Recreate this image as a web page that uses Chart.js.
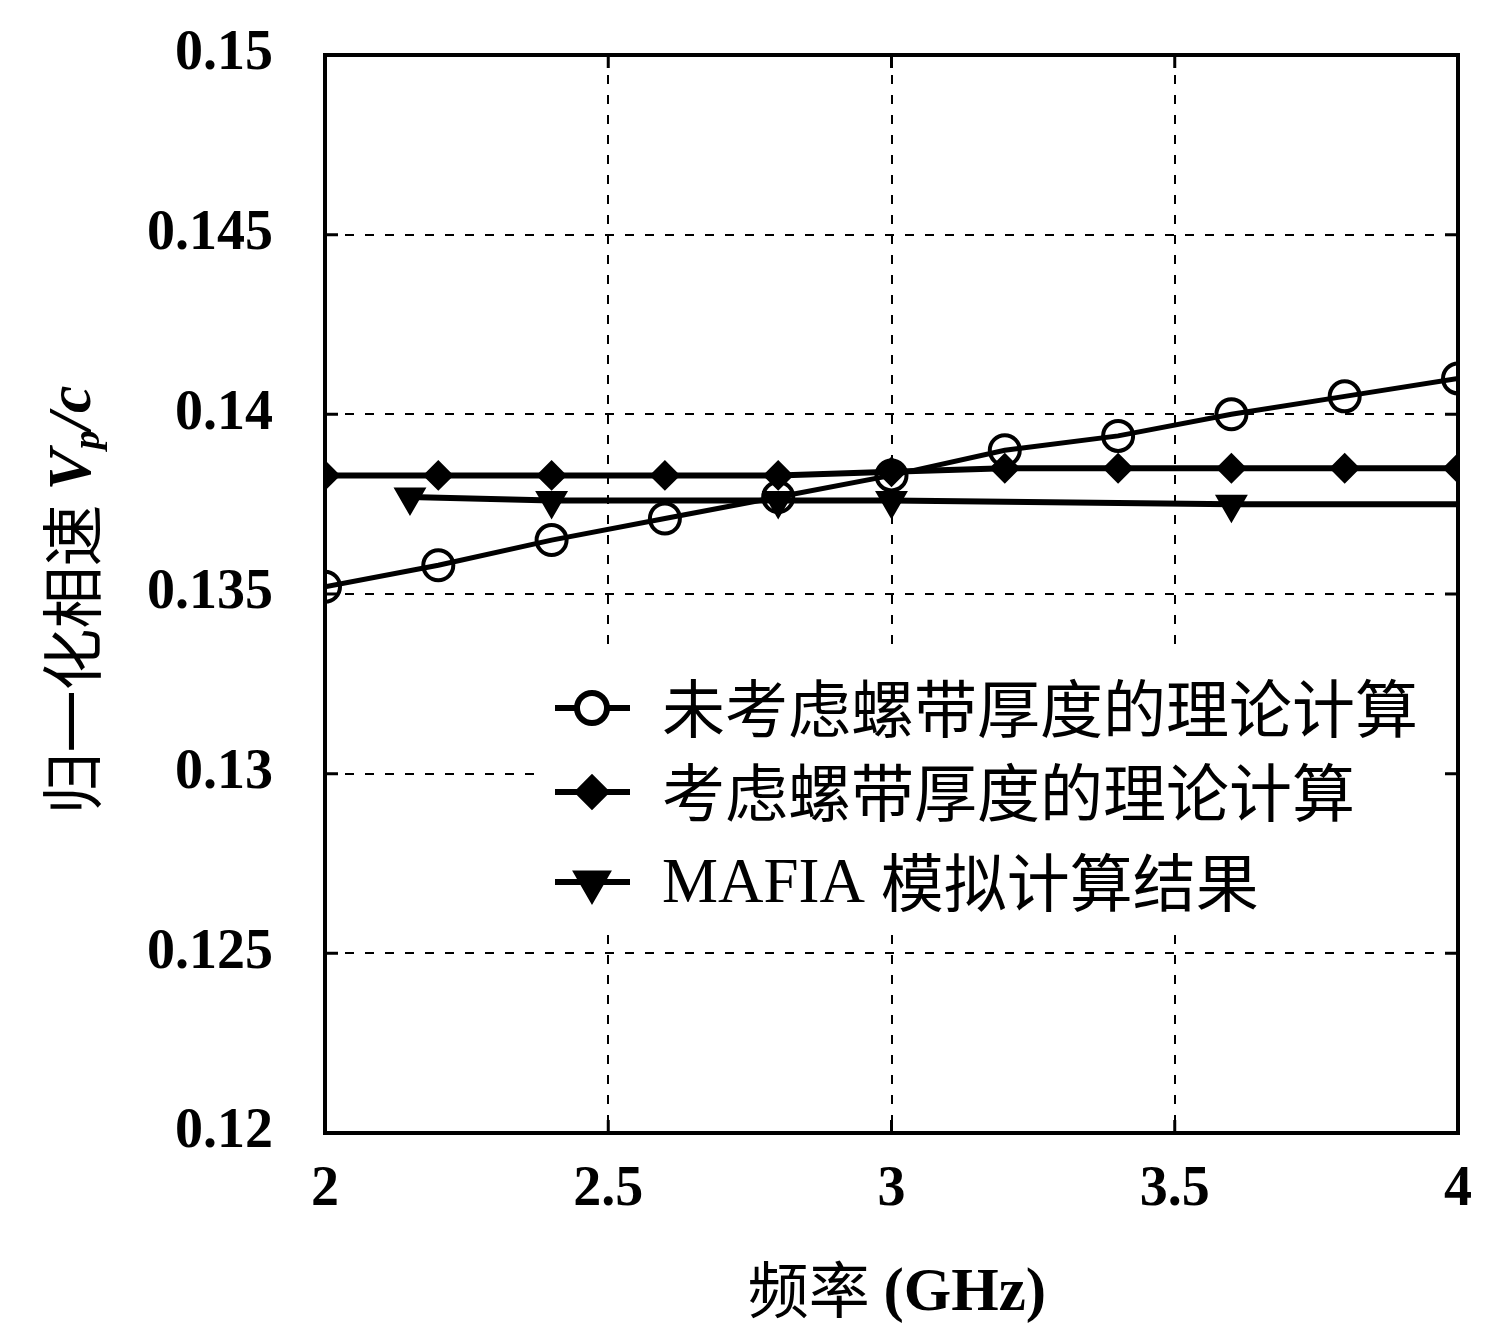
<!DOCTYPE html>
<html>
<head>
<meta charset="utf-8">
<script src="https://cdn.jsdelivr.net/npm/chart.js@4.4.1/dist/chart.umd.min.js"></script>
<style>
  html, body { margin: 0; padding: 0; background: #fff; }
  #wrap { width: 1485px; height: 1325px; }
</style>
</head>
<body>
<div id="wrap"><canvas id="c" width="1485" height="1325"></canvas></div>
<script>
// ---- data ----
const freqs = [2.0, 2.2, 2.4, 2.6, 2.8, 3.0, 3.2, 3.4, 3.6, 3.8, 4.0];
const noThickness = [0.1352, 0.1358, 0.1365, 0.1371, 0.1377, 0.1383, 0.1390, 0.1394, 0.1400, 0.1405, 0.1410];
const withThickness = [0.1383, 0.1383, 0.1383, 0.1383, 0.1383, 0.1384, 0.1385, 0.1385, 0.1385, 0.1385, 0.1385];
const mafiaFreqs = [2.15, 2.4, 2.8, 3.0, 3.6, 4.0];
const mafiaValues = [0.1377, 0.1376, 0.1376, 0.1376, 0.1375, 0.1375];
const mafiaMarker = [true, true, true, true, true, false];

const seriesLabels = ['未考虑螺带厚度的理论计算', '考虑螺带厚度的理论计算', 'MAFIA 模拟计算结果'];
const xTicks = [2, 2.5, 3, 3.5, 4];
const yTicks = [0.12, 0.125, 0.13, 0.135, 0.14, 0.145, 0.15];

const SERIF = "'Liberation Serif', 'DejaVu Serif', serif";
const CJK = "'Noto Sans CJK SC', sans-serif";
const INK = '#000';

const pts = (xs, ys) => xs.map((x, i) => ({ x, y: ys[i] }));

// frame, inward ticks, legend and axis titles
const decor = {
  id: 'decor',
  afterDraw(chart) {
    const { ctx, chartArea: a, scales: { x, y } } = chart;
    ctx.save();

    // legend box (white, covers grid)
    const lx = 550, ly = 655, rows = [708, 792, 882];
    ctx.fillStyle = '#fff';
    ctx.fillRect(lx - 10, ly, 895, 275);
    const styles = chart.data.datasets;
    rows.forEach((ry, i) => {
      ctx.strokeStyle = INK;
      ctx.lineWidth = 6;
      ctx.beginPath(); ctx.moveTo(lx + 5, ry); ctx.lineTo(lx + 80, ry); ctx.stroke();
      const ds = styles[i];
      const r = Array.isArray(ds.pointRadius) ? ds.pointRadius[0] : ds.pointRadius;
      Chart.helpers.drawPoint(ctx, {
        pointStyle: ds.pointStyle, rotation: ds.rotation || 0, radius: r, borderWidth: ds.pointBorderWidth
      }, lx + 42, ry);
      ctx.fillStyle = ds.pointBackgroundColor;
      ctx.strokeStyle = INK;
      ctx.lineWidth = ds.pointBorderWidth;
      if (ds.pointBackgroundColor !== 'rgba(0,0,0,0)') ctx.fill();
      ctx.stroke();
      ctx.fillStyle = INK;
      ctx.textBaseline = 'middle';
      ctx.textAlign = 'left';
      ctx.font = '63px ' + CJK;
      if (i === 2) {
        ctx.font = '63px ' + SERIF;
        ctx.fillText('MAFIA', lx + 112, ry + 3);
        const w = ctx.measureText('MAFIA ').width;
        ctx.font = '63px ' + CJK;
        ctx.fillText('模拟计算结果', lx + 112 + w, ry);
      } else {
        ctx.fillText(seriesLabels[i], lx + 112, ry);
      }
    });

    // frame
    ctx.strokeStyle = INK;
    ctx.lineWidth = 4;
    ctx.strokeRect(a.left, a.top, a.right - a.left, a.bottom - a.top);

    // inward ticks on all sides
    ctx.lineWidth = 3;
    const tl = 13;
    xTicks.forEach(v => {
      const px = x.getPixelForValue(v);
      ctx.beginPath();
      ctx.moveTo(px, a.bottom); ctx.lineTo(px, a.bottom - tl);
      ctx.moveTo(px, a.top); ctx.lineTo(px, a.top + tl);
      ctx.stroke();
    });
    yTicks.forEach(v => {
      const py = y.getPixelForValue(v);
      ctx.beginPath();
      ctx.moveTo(a.left, py); ctx.lineTo(a.left + tl, py);
      ctx.moveTo(a.right, py); ctx.lineTo(a.right - tl, py);
      ctx.stroke();
    });

    // x title
    ctx.fillStyle = INK;
    ctx.textAlign = 'left';
    ctx.textBaseline = 'middle';
    const t1 = '频率 ';
    const t2 = '(GHz)';
    ctx.font = 'bold 61px ' + SERIF;
    const w2 = ctx.measureText(t2).width;
    ctx.font = '61px ' + CJK;
    const w1 = ctx.measureText(t1).width;
    const sx = 897 - (w1 + w2) / 2;
    ctx.fillText(t1, sx, 1290);
    ctx.font = 'bold 61px ' + SERIF;
    ctx.fillText(t2, sx + w1, 1294);

    // y title (rotated)
    ctx.translate(72, 600);
    ctx.rotate(-Math.PI / 2);
    ctx.font = '62px ' + CJK;
    const c1 = '归一化相速 ';
    const cw = ctx.measureText(c1).width;
    ctx.font = 'italic bold 62px ' + SERIF;
    const vw = ctx.measureText('V').width;
    ctx.font = 'italic bold 38px ' + SERIF;
    const pw = ctx.measureText('p').width;
    ctx.font = 'italic bold 62px ' + SERIF;
    const sw = ctx.measureText('/c').width;
    let tx = -(cw + vw + pw + sw) / 2;
    ctx.font = '62px ' + CJK;
    ctx.fillText(c1, tx, 0); tx += cw;
    ctx.font = 'italic bold 62px ' + SERIF;
    ctx.fillText('V', tx, 2); tx += vw;
    ctx.font = 'italic bold 38px ' + SERIF;
    ctx.fillText('p', tx, 17); tx += pw;
    ctx.font = 'italic bold 62px ' + SERIF;
    ctx.fillText('/c', tx, 2);

    ctx.restore();
  }
};

new Chart(document.getElementById('c'), {
  type: 'line',
  data: {
    datasets: [
      {
        label: seriesLabels[0],
        data: pts(freqs, noThickness),
        borderColor: INK, borderWidth: 5,
        pointStyle: 'circle', pointRadius: 15, pointBorderWidth: 4,
        pointBorderColor: INK, pointBackgroundColor: 'rgba(0,0,0,0)',
        tension: 0
      },
      {
        label: seriesLabels[1],
        data: pts(freqs, withThickness),
        borderColor: INK, borderWidth: 6,
        pointStyle: 'rectRot', pointRadius: 14, pointBorderWidth: 2,
        pointBorderColor: INK, pointBackgroundColor: INK,
        tension: 0
      },
      {
        label: seriesLabels[2],
        data: pts(mafiaFreqs, mafiaValues),
        borderColor: INK, borderWidth: 6,
        pointStyle: 'triangle', rotation: 180,
        pointRadius: mafiaMarker.map(m => m ? 17 : 0), pointBorderWidth: 2,
        pointBorderColor: INK, pointBackgroundColor: INK,
        tension: 0
      }
    ]
  },
  options: {
    responsive: false,
    animation: false,
    events: [],
    layout: { padding: { top: 55, right: 27, left: 0, bottom: 0 } },
    plugins: { legend: { display: false }, tooltip: { enabled: false } },
    scales: {
      x: {
        type: 'linear', min: 2, max: 4,
        afterBuildTicks: s => { s.ticks = xTicks.map(v => ({ value: v })); },
        afterFit: s => { s.height = 192; s.paddingLeft = 0; s.paddingRight = 0; },
        grid: { color: INK, lineWidth: 2, drawTicks: false },
        border: { display: false, dash: [9, 11] },
        ticks: {
          color: INK, padding: 24,
          font: { family: SERIF, size: 56, weight: 'bold' },
          callback: v => String(v)
        }
      },
      y: {
        type: 'linear', min: 0.12, max: 0.15,
        afterBuildTicks: s => { s.ticks = yTicks.map(v => ({ value: v })); },
        afterFit: s => { s.width = 325; s.paddingTop = 0; s.paddingBottom = 0; },
        grid: { color: INK, lineWidth: 2, drawTicks: false },
        border: { display: false, dash: [9, 11] },
        ticks: {
          color: INK, padding: 52,
          font: { family: SERIF, size: 56, weight: 'bold' },
          callback: v => String(Math.round(v * 1000) / 1000)
        }
      }
    }
  },
  plugins: [decor]
});
</script>
</body>
</html>
